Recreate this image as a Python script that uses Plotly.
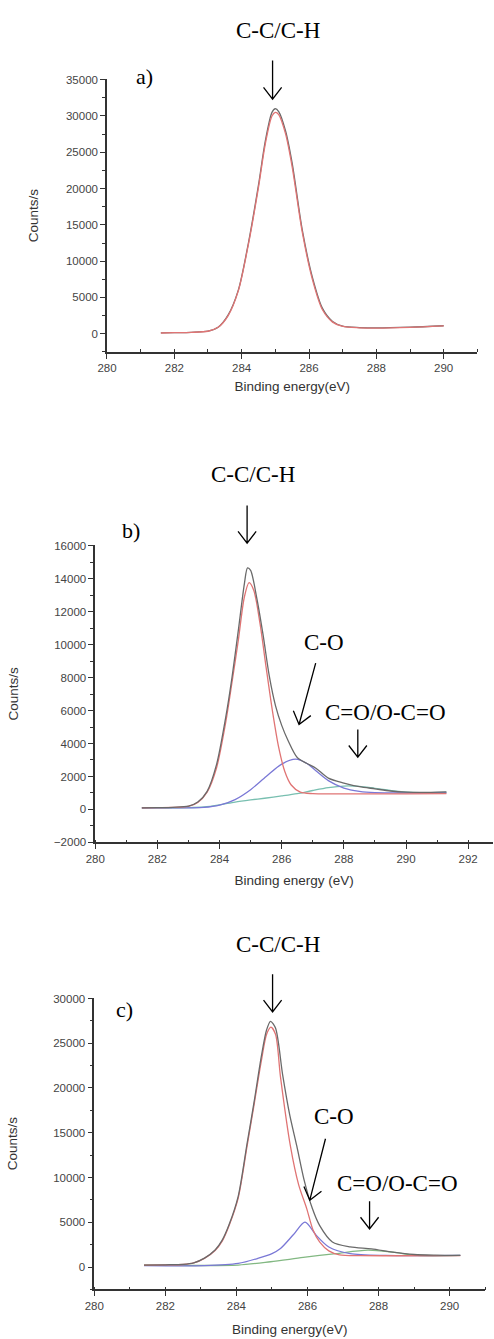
import math
import plotly.graph_objects as go

W, H = 494, 1339

# ---------------- data ----------------
# Panel a
a_x = [281.6, 282.0, 282.5, 283.0, 283.3, 283.6, 283.9, 284.2, 284.5, 284.7, 284.9, 285.0,
       285.1, 285.3, 285.5, 285.8, 286.1, 286.4, 286.7, 287.0, 287.5, 288.0, 289.0, 290.0]
a_envelope = [120, 150, 200, 350, 900, 2600, 6000, 12500, 20500, 26500, 30500, 31000,
              30600, 28000, 23500, 14300, 7800, 3500, 1700, 1050, 850, 800, 900, 1100]
a_cc = [100, 140, 190, 340, 880, 2500, 5900, 12300, 20200, 26100, 30000, 30500,
        30200, 27600, 23000, 14000, 7500, 3300, 1600, 1000, 820, 780, 880, 1080]

# Panel b
b_env_x = [281.5, 282.0, 282.5, 283.0, 283.3, 283.6, 283.9, 284.2, 284.4, 284.6, 284.8, 284.9,
           285.0, 285.2, 285.4, 285.6, 285.8, 286.0, 286.2, 286.5, 286.8, 287.1, 287.5, 288.0,
           288.5, 289.0, 289.5, 290.0, 290.5, 291.3]
b_envelope = [100, 110, 130, 200, 450, 1100, 2700, 5600, 8000, 10800, 13700, 14650,
              14500, 12800, 10600, 8100, 6300, 5100, 4200, 3150, 2800, 2500, 1900, 1600,
              1380, 1250, 1120, 1050, 1030, 1060]
b_cc_x = [281.5, 282.0, 282.5, 283.0, 283.3, 283.6, 283.9, 284.2, 284.4, 284.6, 284.8, 284.95,
          285.1, 285.3, 285.5, 285.7, 285.9, 286.1, 286.3, 286.6, 287.0, 288.0, 289.0, 290.0, 291.3]
b_cc = [100, 110, 120, 180, 420, 1050, 2500, 5300, 7700, 10200, 12900, 13760,
        13300, 11300, 8600, 6000, 3800, 2300, 1500, 1050, 960, 950, 950, 950, 960]
b_co_x = [281.5, 282.5, 283.0, 283.5, 284.0, 284.5, 285.0, 285.5, 286.0, 286.45, 286.8, 287.1,
          287.5, 288.0, 288.5, 289.0, 290.0, 291.3]
b_co = [100, 100, 100, 120, 260, 600, 1200, 2000, 2750, 3050, 2800, 2350,
        1750, 1300, 1100, 1020, 1000, 1010]
b_coo_x = [281.5, 282.5, 283.0, 283.5, 284.0, 284.5, 285.0, 285.45, 286.0, 286.5, 287.0, 287.5,
           288.0, 288.5, 289.0, 289.6, 290.2, 291.3]
b_coo = [100, 100, 110, 150, 280, 450, 580, 680, 820, 960, 1150, 1320,
         1420, 1400, 1280, 1130, 1040, 1030]

# Panel c
c_env_x = [281.4, 282.0, 282.5, 282.8, 283.1, 283.4, 283.6, 283.8, 284.05, 284.3, 284.5, 284.7,
           284.85, 284.96, 285.1, 285.3, 285.5, 285.7, 285.9, 286.14, 286.34, 286.7, 287.2, 287.8,
           288.4, 289.0, 289.6, 290.3]
c_envelope = [220, 250, 300, 470, 1000, 1900, 3000, 4800, 7900, 13800, 18500, 23500,
              26500, 27450, 26700, 21500, 17000, 13500, 9800, 6500, 4650, 2800, 2250, 2030,
              1660, 1400, 1320, 1290]
c_cc_x = [281.4, 282.0, 282.5, 282.8, 283.1, 283.4, 283.6, 283.8, 284.05, 284.3, 284.5, 284.7,
          284.85, 284.97, 285.1, 285.24, 285.52, 285.75, 285.98, 286.15, 286.34, 286.6, 286.9,
          287.5, 288.5, 290.3]
c_cc = [200, 230, 280, 450, 960, 1850, 2900, 4700, 7700, 13500, 18200, 23000,
        26000, 26790, 26000, 21250, 13500, 9200, 6500, 4200, 2800, 1800, 1350,
        1270, 1260, 1280]
c_co_x = [281.4, 283.1, 284.05, 284.6, 285.0, 285.24, 285.6, 285.93, 286.25, 286.6, 287.2, 288.2, 290.3]
c_co = [150, 150, 400, 960, 1500, 2070, 3600, 5020, 3530, 2240, 1500, 1290, 1290]
c_coo_x = [281.4, 284.05, 284.96, 285.88, 286.8, 287.7, 288.4, 289.1, 290.3]
c_coo = [220, 220, 590, 1070, 1500, 1880, 1660, 1290, 1290]

# ---------------- styles ----------------
GRAY = "#6a6a6a"
RED = "#e07474"
BLUE = "#7a78d6"
TEAL = "#78bfb0"
GREEN = "#82b882"
SERIF = "Liberation Serif, Times New Roman, serif"
SANS = "Liberation Sans, Arial, sans-serif"


def px(x):
    return x / W


def py(y):
    return 1 - y / H


fig = go.Figure()


def add_line(x, y, color, n, width=1.3):
    fig.add_trace(go.Scatter(
        x=x, y=y, mode="lines",
        line=dict(color=color, width=width, shape="spline", smoothing=0.8),
        xaxis="x" if n == 1 else f"x{n}", yaxis="y" if n == 1 else f"y{n}",
        hoverinfo="skip", showlegend=False))


add_line(a_x, a_envelope, GRAY, 1)
add_line(a_x, a_cc, RED, 1)

add_line(b_coo_x, b_coo, TEAL, 2)
add_line(b_co_x, b_co, BLUE, 2)
add_line(b_cc_x, b_cc, RED, 2)
add_line(b_env_x, b_envelope, GRAY, 2)

add_line(c_coo_x, c_coo, GREEN, 3)
add_line(c_co_x, c_co, BLUE, 3)
add_line(c_cc_x, c_cc, RED, 3)
add_line(c_env_x, c_envelope, GRAY, 3)


def xaxis(dom, rng, title, standoff):
    return dict(
        domain=[px(dom[0]), px(dom[1])], range=rng, tick0=280, dtick=2, tickformat="d",
        ticks="outside", ticklen=5, tickwidth=1.2, tickcolor="#333",
        minor=dict(dtick=1, ticks="inside", ticklen=3, tickwidth=1, tickcolor="#333"),
        showline=True, linecolor="#333", linewidth=1.5, showgrid=False, zeroline=False,
        tickfont=dict(family=SANS, size=11.5, color="#444"),
        title=dict(text=title, font=dict(family=SANS, size=13.5, color="#333"), standoff=standoff),
        fixedrange=True)


def yaxis(dom, rng, dt, mdt, standoff):
    return dict(
        domain=[py(dom[1]), py(dom[0])], range=rng, tick0=0, dtick=dt, tickformat="d",
        ticks="outside", ticklen=5, tickwidth=1.2, tickcolor="#333",
        minor=dict(dtick=mdt, tick0=0, ticks="outside", ticklen=3, tickwidth=1, tickcolor="#333"),
        showline=True, linecolor="#333", linewidth=1.5, showgrid=False, zeroline=False,
        tickfont=dict(family=SANS, size=11.5, color="#444"),
        title=dict(text="Counts/s", font=dict(family=SANS, size=13.5, color="#333"), standoff=standoff),
        fixedrange=True)


fig.update_layout(
    width=W, height=H, margin=dict(l=0, r=0, t=0, b=0),
    paper_bgcolor="white", plot_bgcolor="white", showlegend=False,
    xaxis=dict(xaxis((99, 477), [280, 291], "Binding energy(eV)", 8), anchor="y"),
    yaxis=dict(yaxis((74, 349), [-2500, 35050], 5000, 2500, 24), anchor="x"),
    xaxis2=dict(xaxis((87, 493), [280, 292.8], "Binding energy (eV)", 12), anchor="y2"),
    yaxis2=dict(yaxis((544, 844), [-2000, 16030], 2000, 1000, 32), anchor="x2"),
    xaxis3=dict(xaxis((86, 485), [280, 291], "Binding energy(eV)", 14), anchor="y3"),
    yaxis3=dict(yaxis((1001, 1295), [-2500, 30050], 5000, 2500, 32), anchor="x3"),
)

# ---------------- labels and arrows ----------------
labels = [
    ("C-C/C-H", 274, 25, 23), ("a)", 137, 71, 22),
    ("C-C/C-H", 248, 473, 23), ("b)", 123, 529, 22),
    ("C-O", 320, 642, 23), ("C=O/O-C=O", 383, 713, 23),
    ("C-C/C-H", 274, 947, 23), ("c)", 117, 1013, 22),
    ("C-O", 331, 1121, 23), ("C=O/O-C=O", 395, 1188, 23),
]
for text, x, y, size in labels:
    fig.add_annotation(text=text, x=px(x), y=py(y), xref="paper", yref="paper",
                       xanchor="center", yanchor="middle", showarrow=False,
                       font=dict(family=SERIF, size=size, color="black"))

arrows = [
    (268, 55, 268, 94),
    (242, 504, 242, 542),
    (312, 663, 295, 725),
    (355, 730, 355, 758),
    (268, 977, 268, 1015),
    (322, 1143, 306, 1205),
    (367, 1206, 367, 1234),
]


def arrow_path(x0, y0, x1, y1, head=15.0, ang=38.0):
    dx, dy = x1 - x0, y1 - y0
    L = math.hypot(dx, dy)
    ux, uy = dx / L, dy / L
    a = math.radians(ang)
    pts = []
    for s in (1, -1):
        bx = -ux * math.cos(a) - s * (-uy) * math.sin(a)
        by = -uy * math.cos(a) + s * (-ux) * math.sin(a)
        pts.append((x1 + head * bx, y1 + head * by))
    f = lambda x, y: f"{px(x):.5f},{py(y):.5f}"
    return (f"M {f(x0, y0)} L {f(x1, y1)} M {f(*pts[0])} L {f(x1, y1)} L {f(*pts[1])}")


for ar in arrows:
    fig.add_shape(type="path", path=arrow_path(*ar), xref="paper", yref="paper",
                  line=dict(color="black", width=1.3))

fig.write_html("out.html")
